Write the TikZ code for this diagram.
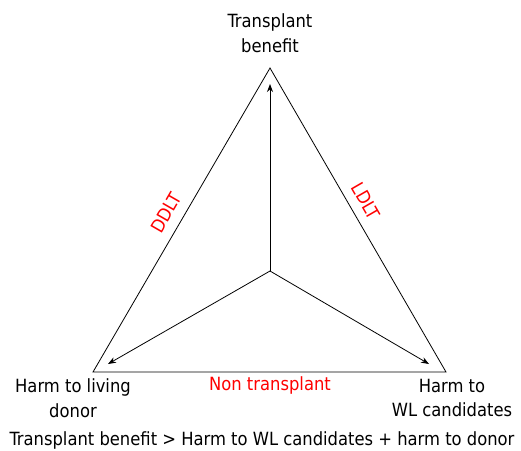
\documentclass[tikz,border=0pt]{standalone}
\usepackage{fontspec}
\setmainfont{DejaVu Sans Condensed}
\usetikzlibrary{arrows.meta}
\begin{document}
\begin{tikzpicture}[x=1pt,y=-1pt,
  lbl/.style={font=\fontsize{18.2}{24.5}\selectfont, align=center, inner sep=0pt},
  red lbl/.style={lbl, text=red},
  edge/.style={draw=black, line width=0.8pt},
  arr/.style={draw=black, line width=0.8pt, -{Stealth[length=8pt,width=6pt]}}]
\useasboundingbox (0,0) rectangle (521,450);
\coordinate (A) at (270,68);
\coordinate (L) at (93,372);
\coordinate (R) at (446,372);
\coordinate (C) at (270,271);
\coordinate (tA) at (270,84);
\coordinate (tL) at (108,364);
\coordinate (tR) at (429,364);
\draw[edge] (A) -- (L) -- (R) -- cycle;
\draw[arr] (C) -- (tA);
\draw[arr] (C) -- (tL);
\draw[arr] (C) -- (tR);
\node[lbl] (top) at (270,33) {Transplant\\benefit};
\node[lbl] (hl) at (73,398) {Harm to living\\donor};
\node[lbl] (hw) at (452,398) {Harm to\\WL candidates};
\node[red lbl] (nt) at (270,385) {Non transplant};
\node[red lbl, rotate=60] (dd) at (166,213) {DDLT};
\node[red lbl, rotate=-60] (ld) at (366,201) {LDLT};
\node[lbl] (bot) at (262,440) {Transplant benefit > Harm to WL candidates + harm to donor};
\end{tikzpicture}
\end{document}
